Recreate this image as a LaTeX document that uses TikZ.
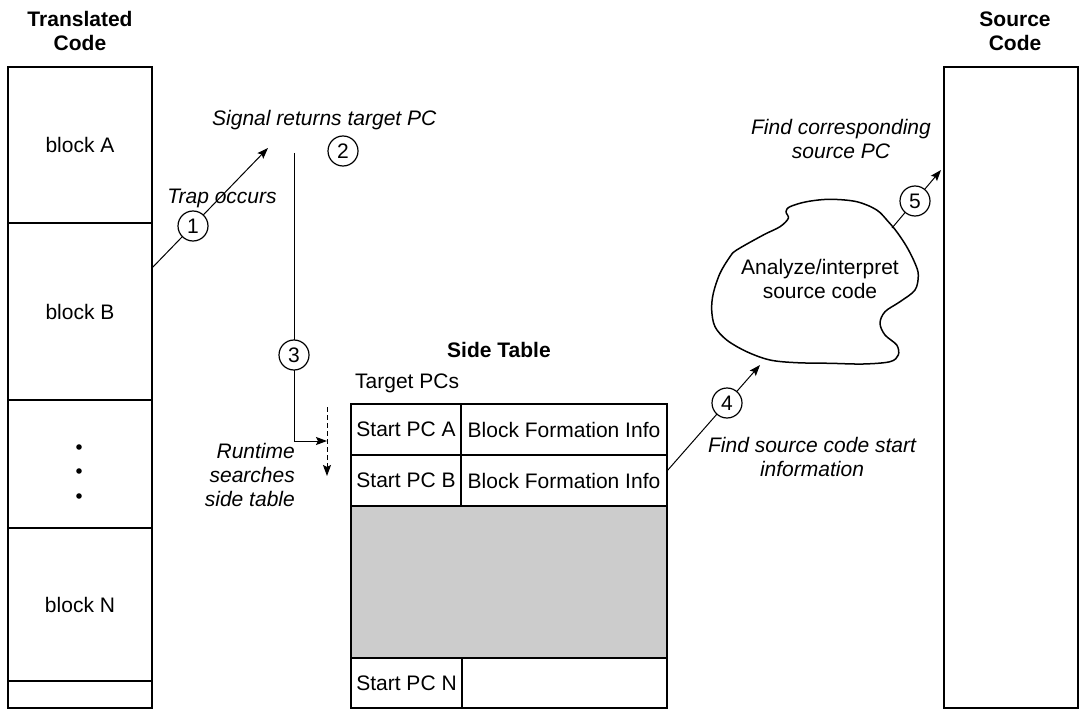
\documentclass[tikz,border=0pt]{standalone}
\usepackage{fontspec}
\setmainfont{Liberation Sans}
\usetikzlibrary{arrows.meta,calc}
\begin{document}
\begin{tikzpicture}[x=1pt,y=-1pt,
  cell/.style={draw, line width=1.6pt, inner sep=0pt, font=\fontsize{21}{24}\selectfont},
  txt/.style={inner sep=0pt, font=\fontsize{21}{24}\selectfont},
  ital/.style={inner sep=0pt, align=center, font=\fontsize{21}{24}\selectfont\itshape},
  head/.style={inner sep=0pt, align=center, font=\fontsize{21}{24}\selectfont\bfseries},
  num/.style={draw, circle, line width=1.2pt, minimum size=30pt, inner sep=0pt, fill=white, font=\fontsize{21}{24}\selectfont},
  conn/.style={line width=1pt, -{Stealth[length=11pt,width=8pt,inset=2pt]}},
  dashconn/.style={line width=1pt, dash pattern=on 5pt off 3pt, -{Stealth[length=11pt,width=8pt,inset=2pt]}},
]
\useasboundingbox (0,0) rectangle (1086,711);
\fill[white] (0,0) rectangle (1086,711);

% Translated code column
\node[head, anchor=north] (thead) at (80,11) {Translated\\Code};
\node[cell, minimum width=144pt, minimum height=156pt] (blkA) at (80,145) {block A};
\node[cell, minimum width=144pt, minimum height=177pt] (blkB) at (80,311.5) {block B};
\node[cell, minimum width=144pt, minimum height=128pt] (dots) at (80,464) {};
\node[cell, minimum width=144pt, minimum height=153pt] (blkN) at (80,604.5) {block N};
\node[cell, minimum width=144pt, minimum height=27pt] (blkE) at (80,694.5) {};
\fill ($(dots.center)+(-1,-17)$) circle (2.8pt);
\fill ($(dots.center)+(-1,7)$) circle (2.8pt);
\fill ($(dots.center)+(-1,32)$) circle (2.8pt);

% Source code column
\node[head, anchor=north] (shead) at (1015,12) {Source\\Code};
\node[cell, minimum width=134pt, minimum height=641pt] (src) at (1011,387.5) {};

% Side table
\node[head, anchor=base west] (sthead) at (447,357) {Side Table};
\node[txt, anchor=base west] (tpcs) at (355,388) {Target PCs};
\node[cell, minimum width=110pt, minimum height=51pt] (pcA) at (406,429.5) {Start PC A};
\node[cell, minimum width=206pt, minimum height=51pt] (bfA) at (564,429.5) {Block Formation Info};
\node[cell, minimum width=110pt, minimum height=51pt] (pcB) at (406,480.5) {Start PC B};
\node[cell, minimum width=206pt, minimum height=51pt] (bfB) at (564,480.5) {Block Formation Info};
\node[cell, fill={rgb,255:red,204;green,204;blue,204}, minimum width=316pt, minimum height=152pt] (gray) at (509,582) {};
\node[cell, minimum width=111pt, minimum height=50pt] (pcN) at (406.5,683) {Start PC N};
\node[cell, minimum width=205pt, minimum height=50pt] (bfN) at (564.5,683) {};

% Cloud
\draw[line width=1.5pt] plot[smooth cycle, tension=0.55] coordinates {
 (736.7,250) (763.3,235) (780,226.7) (788.3,218.3) (786,211.7) (790,206.7)
 (806.7,201.7) (830,199.3) (856.7,201.7) (876.7,210) (888.3,221.7) (896.7,231.7)
 (906.7,246.7) (915,263.3) (918.3,275) (915,290) (900,301.7) (885,311.7)
 (880,323.3) (885,335) (896.7,345) (898.3,355) (890,361.7) (863.3,364)
 (830,363.3) (796.7,362.7) (770,360) (746.7,351.7) (726.7,340) (715,326.7)
 (711.7,310) (713.3,293.3) (720,273.3) (730,256.7)};
\node[txt, align=center] (cloud) at (820,279) {Analyze/interpret\\source code};

% Coordinates
\coordinate (a1s) at (152,268);
\coordinate (a1e) at (268,148);
\coordinate (l3s) at (294,153);
\coordinate (l3c) at (294,441);
\coordinate (dtop) at (327,407);
\coordinate (dbot) at (327,476);
\coordinate (a3e) at (327,441);
\coordinate (a4s) at (667,471);
\coordinate (a4e) at (760,365);
\coordinate (a5s) at (892,228);
\coordinate (a5e) at (941,170);

% Connectors
\draw[conn] (a1s) -- (a1e);
\draw[conn] (l3s) -- (l3c) -- (a3e);
\draw[dashconn] (dtop) -- (dbot);
\draw[conn] (a4s) -- (a4e);
\draw[conn] (a5s) -- (a5e);

% Numbered circles
\node[num] (n1) at (193,226) {1};
\node[num] (n2) at (343,151) {2};
\node[num] (n3) at (294,355) {3};
\node[num] (n4) at (727,403) {4};
\node[num] (n5) at (915,201) {5};

% Labels
\node[ital, anchor=base] (ltrap) at (222,204) {Trap occurs};
\node[ital, anchor=base west] (lsig) at (212,126) {Signal returns target PC};
\node[ital, align=right, anchor=north east] (lrun) at (295,443) {Runtime\\searches\\side table};
\node[ital, anchor=north] (lfind) at (812,437) {Find source code start\\information};
\node[ital, anchor=north] (lcorr) at (841,119) {Find corresponding\\source PC};
\end{tikzpicture}
\end{document}
